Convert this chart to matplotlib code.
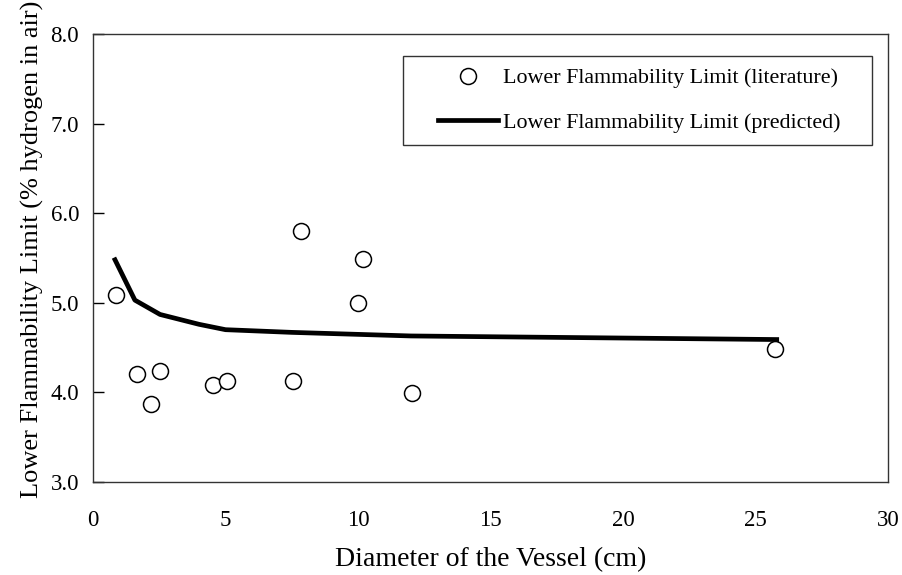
import matplotlib
matplotlib.use("Agg")
import matplotlib.pyplot as plt
from matplotlib.lines import Line2D
from matplotlib.legend_handler import HandlerLine2D
from matplotlib.ticker import FormatStrFormatter

plt.rcParams["font.family"] = ["Liberation Serif", "DejaVu Serif"]

# literature values: vessel diameter (cm) vs lower flammability limit (% H2 in air)
lit_diameter = [0.86, 1.67, 2.19, 2.53, 4.52, 5.04, 7.56, 7.85, 10.01, 10.18, 12.03, 25.73]
lit_lfl = [5.09, 4.20, 3.87, 4.24, 4.08, 4.13, 4.13, 5.80, 5.00, 5.49, 3.99, 4.48]

# predicted curve
pred_diameter = [0.83, 1.58, 2.53, 4.0, 5.0, 7.5, 12.0, 25.8]
pred_lfl = [5.48, 5.03, 4.87, 4.76, 4.70, 4.67, 4.63, 4.59]

fig = plt.figure(figsize=(9.03, 5.75), dpi=100)
ax = fig.add_axes([0.103, 0.1617, 0.8804, 0.7792])

ax.plot(lit_diameter, lit_lfl, linestyle="none", marker="o", markersize=11.5,
        markerfacecolor="white", markeredgecolor="black", markeredgewidth=1.1,
        label="Lower Flammability Limit (literature)", zorder=3)
ax.plot(pred_diameter, pred_lfl, color="black", linewidth=3.4,
        label="Lower Flammability Limit (predicted)", zorder=2)

ax.set_xlim(0, 30)
ax.set_ylim(3.0, 8.0)
ax.set_xticks(range(0, 31, 5))
ax.set_yticks([3.0, 4.0, 5.0, 6.0, 7.0, 8.0])
ax.yaxis.set_major_formatter(FormatStrFormatter("%.1f"))
ax.tick_params(axis="x", length=0, labelsize=16.5, pad=20)
ax.tick_params(axis="y", direction="in", length=8, width=1, labelsize=16.5, pad=10)
for s in ax.spines.values():
    s.set_color("#333333")
    s.set_linewidth(1.0)

ax.set_xlabel("Diameter of the Vessel (cm)", fontsize=20, labelpad=12)
ax.set_ylabel("Lower Flammability Limit (% hydrogen in air)", fontsize=19)
ax.yaxis.set_label_coords(-0.062, 0.52)

leg = ax.legend(loc="upper left", bbox_to_anchor=(0.390, 0.751, 0.590, 0.2),
                mode="expand", borderaxespad=0, fontsize=15.8,
                frameon=True, fancybox=False, handlelength=3.77, handletextpad=0.23,
                labelspacing=1.1, borderpad=0.55,
                handler_map={Line2D: HandlerLine2D(xpad=1.05)})
leg.get_frame().set_edgecolor("black")
leg.get_frame().set_linewidth(1.0)

fig.savefig("out.png", dpi=100)
